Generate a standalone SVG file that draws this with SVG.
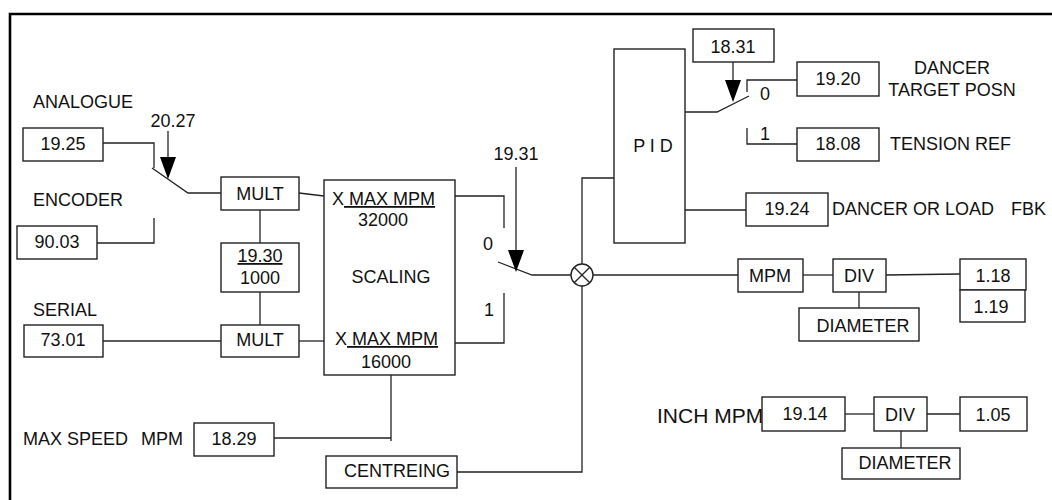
<svg xmlns="http://www.w3.org/2000/svg" width="1052" height="500" viewBox="0 0 1052 500">
<style>
text{font-family:"Liberation Sans",Arial,sans-serif;font-size:18px;fill:#111}
.c{text-anchor:middle}
.box{fill:#fff;stroke:#222;stroke-width:1.4}
.ln{fill:none;stroke:#222;stroke-width:1.3}
.frame{fill:none;stroke:#000;stroke-width:2.6}
</style>
<defs>
<path id="ah" d="M-8,-22 L8,-22 L0,0 z" fill="#000"/>
</defs>
<rect width="1052" height="500" fill="#fff"/>
<g id="frame">
<path class="frame" d="M10,500 V14 H1052"/>
</g>
<g id="connectors">
<polyline class="ln" points="103,143 154,143 154,168"/>
<polyline class="ln" points="152,168 188,193 221,193"/>
<polyline class="ln" points="97,243 154,243 154,218"/>
<line class="ln" x1="260" y1="210" x2="260" y2="243"/>
<line class="ln" x1="260" y1="292" x2="260" y2="325"/>
<line class="ln" x1="103" y1="341" x2="221" y2="341"/>
<line class="ln" x1="299" y1="193" x2="324" y2="196"/>
<line class="ln" x1="299" y1="341" x2="324" y2="341"/>
<polyline class="ln" points="455,196 504,196 504,228"/>
<polyline class="ln" points="498,262 532,275 571,275"/>
<polyline class="ln" points="455,343 504,343 504,293"/>
<line class="ln" x1="516" y1="167" x2="516" y2="255"/>
<use href="#ah" x="516" y="272"/>
<line class="ln" x1="168" y1="131" x2="168" y2="162"/>
<use href="#ah" x="168" y="179"/>
<line class="ln" x1="391" y1="375" x2="391" y2="441"/>
<line class="ln" x1="274" y1="438" x2="391" y2="438"/>
<polyline class="ln" points="457,472 582,472 582,286"/>
<polyline class="ln" points="582,264 582,178 614,178"/>
<line class="ln" x1="593" y1="275" x2="738" y2="275"/>
<line class="ln" x1="803" y1="275" x2="833" y2="275"/>
<line class="ln" x1="886" y1="275" x2="960" y2="274"/>
<line class="ln" x1="859" y1="292" x2="859" y2="308"/>
<polyline class="ln" points="685,112 717,112 749,96"/>
<polyline class="ln" points="797,80 747,80 747,92"/>
<polyline class="ln" points="747,128 747,144 797,144"/>
<line class="ln" x1="733" y1="62" x2="733" y2="85"/>
<use href="#ah" x="733" y="102"/>
<line class="ln" x1="685" y1="210" x2="746" y2="210"/>
<line class="ln" x1="845" y1="414" x2="874" y2="414"/>
<line class="ln" x1="927" y1="414" x2="960" y2="414"/>
<line class="ln" x1="901" y1="431" x2="901" y2="448"/>
</g>
<g id="labels">
<text x="33" y="108">ANALOGUE</text>
<text x="173" y="127" class="c">20.27</text>
<text x="33" y="206">ENCODER</text>
<text x="33" y="316">SERIAL</text>
<text x="23" y="445">MAX SPEED<tspan x="141">MPM</tspan></text>
<text x="488" y="250" class="c">0</text>
<text x="489" y="316" class="c">1</text>
<text x="516" y="160" class="c">19.31</text>
<text x="765" y="100" class="c">0</text>
<text x="765" y="140" class="c">1</text>
<text x="952" y="74" class="c">DANCER</text>
<text x="952" y="96" class="c">TARGET POSN</text>
<text x="890" y="150">TENSION REF</text>
<text x="832" y="215">DANCER OR LOAD<tspan x="1011">FBK</tspan></text>
<text x="657" y="423" style="font-size:21px">INCH MPM</text>
</g>
<g id="n1925"><rect class="box" x="23" y="128" width="80" height="33"/><text x="63" y="150" class="c">19.25</text></g>
<g id="n9003"><rect class="box" x="17" y="226" width="80" height="33"/><text x="57" y="248" class="c">90.03</text></g>
<g id="n7301"><rect class="box" x="24" y="325" width="79" height="32"/><text x="63" y="346" class="c">73.01</text></g>
<g id="mult1"><rect class="box" x="221" y="177" width="78" height="33"/><text x="260" y="200" class="c">MULT</text></g>
<g id="n1930"><rect class="box" x="221" y="243" width="78" height="49"/><text x="260" y="262" class="c" text-decoration="underline">19.30</text><text x="260" y="284" class="c">1000</text></g>
<g id="mult2"><rect class="box" x="221" y="325" width="78" height="32"/><text x="260" y="346" class="c">MULT</text></g>
<g id="scaling"><rect class="box" x="324" y="180" width="131" height="195"/>
<text x="332" y="205">X<tspan text-decoration="underline"> MAX MPM</tspan></text>
<text x="383" y="226" class="c">32000</text>
<text x="391" y="283" class="c">SCALING</text>
<text x="335" y="345">X<tspan text-decoration="underline"> MAX MPM</tspan></text>
<text x="386" y="368" class="c">16000</text></g>
<g id="n1829"><rect class="box" x="194" y="423" width="80" height="33"/><text x="234" y="445" class="c">18.29</text></g>
<g id="centreing"><rect class="box" x="326" y="456" width="131" height="32"/><text x="397" y="477" class="c">CENTREING</text></g>
<g id="sum"><circle cx="582" cy="275" r="11" fill="#fff" stroke="#222" stroke-width="1.4"/><path class="ln" d="M574.2,267.2 L589.8,282.8 M589.8,267.2 L574.2,282.8"/></g>
<g id="pid"><rect class="box" x="614" y="49" width="71" height="194"/><text x="653" y="152" class="c">P I D</text></g>
<g id="n1831"><rect class="box" x="693" y="29" width="81" height="33"/><text x="733" y="53" class="c">18.31</text></g>
<g id="n1920"><rect class="box" x="797" y="62" width="82" height="34"/><text x="838" y="85" class="c">19.20</text></g>
<g id="n1808"><rect class="box" x="797" y="128" width="82" height="33"/><text x="838" y="150" class="c">18.08</text></g>
<g id="n1924"><rect class="box" x="746" y="193" width="82" height="33"/><text x="787" y="215" class="c">19.24</text></g>
<g id="mpm"><rect class="box" x="738" y="259" width="65" height="33"/><text x="770" y="282" class="c">MPM</text></g>
<g id="div1"><rect class="box" x="833" y="259" width="53" height="33"/><text x="859" y="282" class="c">DIV</text></g>
<g id="n118"><rect class="box" x="960" y="259" width="66" height="31"/><text x="993" y="282" class="c">1.18</text></g>
<g id="n119"><rect class="box" x="960" y="290" width="65" height="32"/><text x="991" y="313" class="c">1.19</text></g>
<g id="diam1"><rect class="box" x="799" y="308" width="120" height="33"/><text x="863" y="332" class="c">DIAMETER</text></g>
<g id="n1914"><rect class="box" x="762" y="397" width="83" height="34"/><text x="805" y="420" class="c">19.14</text></g>
<g id="div2"><rect class="box" x="874" y="397" width="53" height="34"/><text x="900" y="421" class="c">DIV</text></g>
<g id="n105"><rect class="box" x="960" y="397" width="67" height="34"/><text x="993" y="421" class="c">1.05</text></g>
<g id="diam2"><rect class="box" x="842" y="448" width="118" height="31"/><text x="905" y="469" class="c">DIAMETER</text></g>
</svg>
